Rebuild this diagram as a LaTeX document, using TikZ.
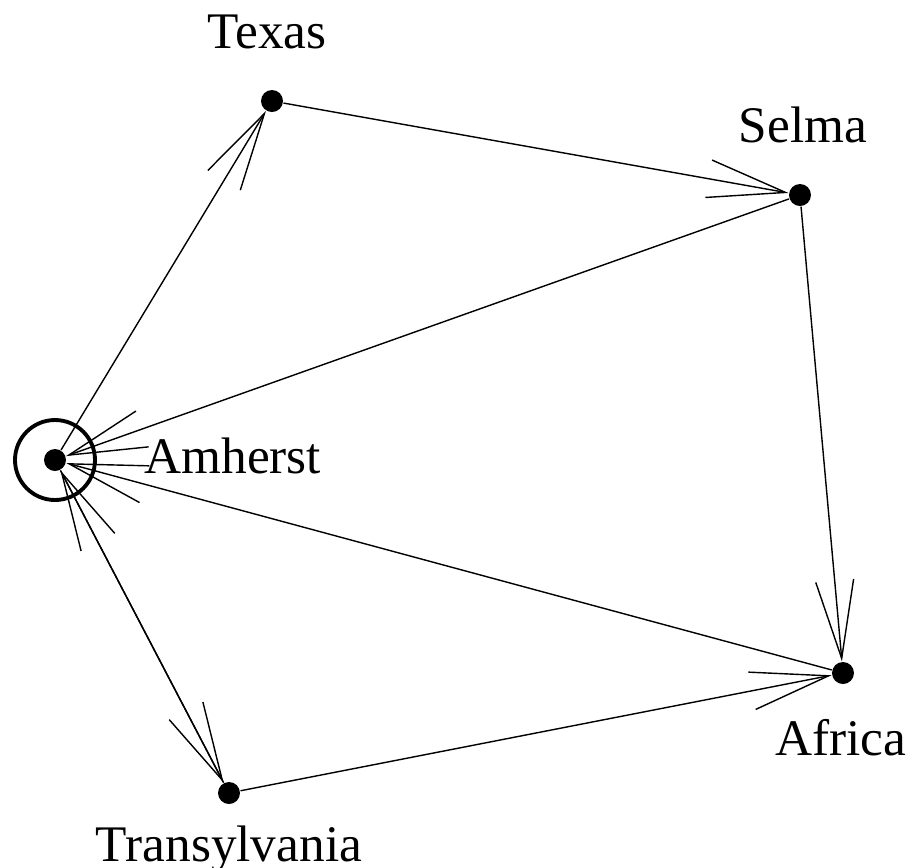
\documentclass[tikz,border=0pt]{standalone}
\usepackage{fontspec}
\setmainfont{Liberation Serif}
\usetikzlibrary{arrows.meta,positioning}

\tikzset{
  town/.style={circle,fill=black,inner sep=0pt,minimum size=2.2mm},
  townlbl/.style={inner sep=0pt,font=\fontsize{14.6}{17}\selectfont},
  road/.style={-{Straight Barb[length=7.8mm,width=3.8mm]},line width=0.4pt},
}

\begin{document}
\begin{tikzpicture}
\useasboundingbox (0,0) rectangle (9.11,-8.68);

% towns
\node [town] (amherst) at (0.55,-4.60) {};
\node [town] (texas) at (2.72,-1.01) {};
\node [town] (selma) at (8.00,-1.95) {};
\node [town] (africa) at (8.43,-6.73) {};
\node [town] (transylvania) at (2.29,-7.93) {};

\draw [line width=1.1pt] (amherst) circle (0.40);

% names
\node [townlbl, right=7.7mm of amherst, yshift=0.4mm] (amherstlbl) {Amherst};
\node [townlbl, above=4.0mm of texas, xshift=-0.5mm] (texaslbl) {Texas};
\node [townlbl, above=4.0mm of selma, xshift=0.3mm] (selmalbl) {Selma};
\node [townlbl, below=3.4mm of africa, xshift=-0.2mm] (africalbl) {Africa};
\node [townlbl, below=2.0mm of transylvania] (transylvanialbl) {Transylvania};

% roads
\draw [road] (amherst) -- (texas);
\draw [road] (texas) -- (selma);
\draw [road] (selma) -- (amherst);
\draw [road] (selma) -- (africa);
\draw [road] (africa) -- (amherst);
\draw [road] (transylvania) -- (africa);
\draw [road] (amherst) -- (transylvania);
\draw [road] (transylvania) -- (amherst);
\end{tikzpicture}
\end{document}
